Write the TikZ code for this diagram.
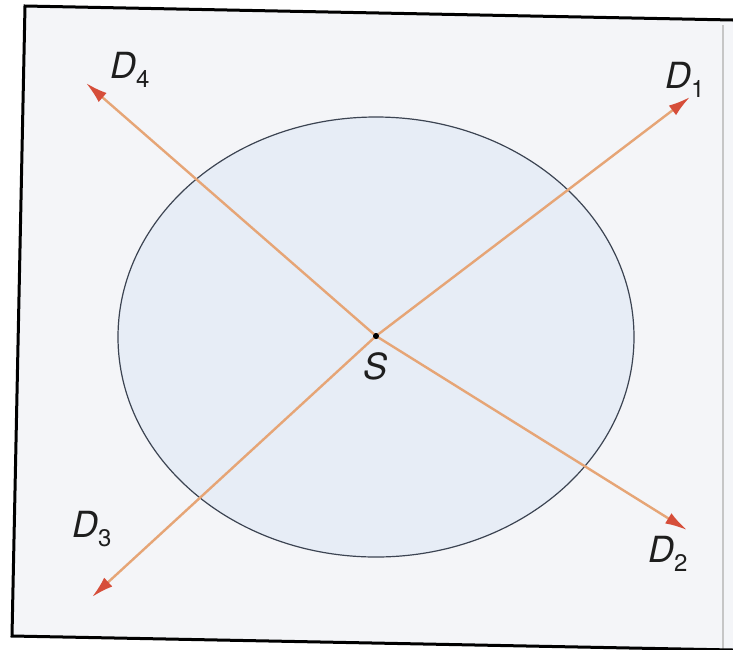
\documentclass[tikz,border=0pt]{standalone}
\usepackage{fontspec}
\setmainfont{TeX Gyre Heros}
\usetikzlibrary{arrows.meta}
\definecolor{raycol}{RGB}{230,165,118}
\definecolor{tipcol}{RGB}{214,78,58}
\definecolor{ellfill}{RGB}{231,237,246}
\definecolor{ellline}{RGB}{60,68,82}
\definecolor{paper}{RGB}{244,245,248}
\definecolor{txt}{RGB}{30,30,30}
\tikzset{
  ray/.style={draw=raycol, line width=2.4pt, -{Latex[length=22pt,width=12pt,color=tipcol]}},
  lab/.style={anchor=base west, inner sep=0pt, text=txt, font=\fontsize{36}{40}\selectfont\itshape},
  frameline/.style={draw=black, line width=3pt},
}
\newcommand{\lbl}[1]{D\raisebox{-9pt}{\fontsize{24}{26}\selectfont\upshape #1}}
\begin{document}
\begin{tikzpicture}[x=1pt,y=-1pt]
\useasboundingbox (0,0) rectangle (733,649);
\fill[white] (0,0) rectangle (733,649);
\fill[paper] (25,6) -- (733,20) -- (733,650) -- (12,636) -- cycle;
\draw[gray!45, line width=2pt] (723,25) -- (723,649);
\draw[frameline] (733,20) -- (25,6) -- (12,636) -- (733,650);
\draw[draw=ellline, fill=ellfill, line width=1.2pt] (376,337) ellipse [x radius=258pt, y radius=220pt];
\node[circle, fill=black, inner sep=0pt, minimum size=6pt] (S) at (376,336) {};
\coordinate (t1) at (690,97);
\coordinate (t2) at (687,530);
\coordinate (t3) at (92,597);
\coordinate (t4) at (86,83);
\draw[ray] (S.center) -- (t1);
\draw[ray] (S.center) -- (t2);
\draw[ray] (S.center) -- (t3);
\draw[ray] (S.center) -- (t4);
\fill[black] (S.center) circle (3pt);
\node[anchor=center, inner sep=0pt, text=txt, font=\fontsize{36}{40}\selectfont\itshape] (Sl) at (376,366) {S};
\node[lab] (L1) at (665,88) {\lbl{1}};
\node[lab] (L2) at (648,562) {\lbl{2}};
\node[lab] (L3) at (72,537) {\lbl{3}};
\node[lab] (L4) at (110,78) {\lbl{4}};
\end{tikzpicture}
\end{document}
